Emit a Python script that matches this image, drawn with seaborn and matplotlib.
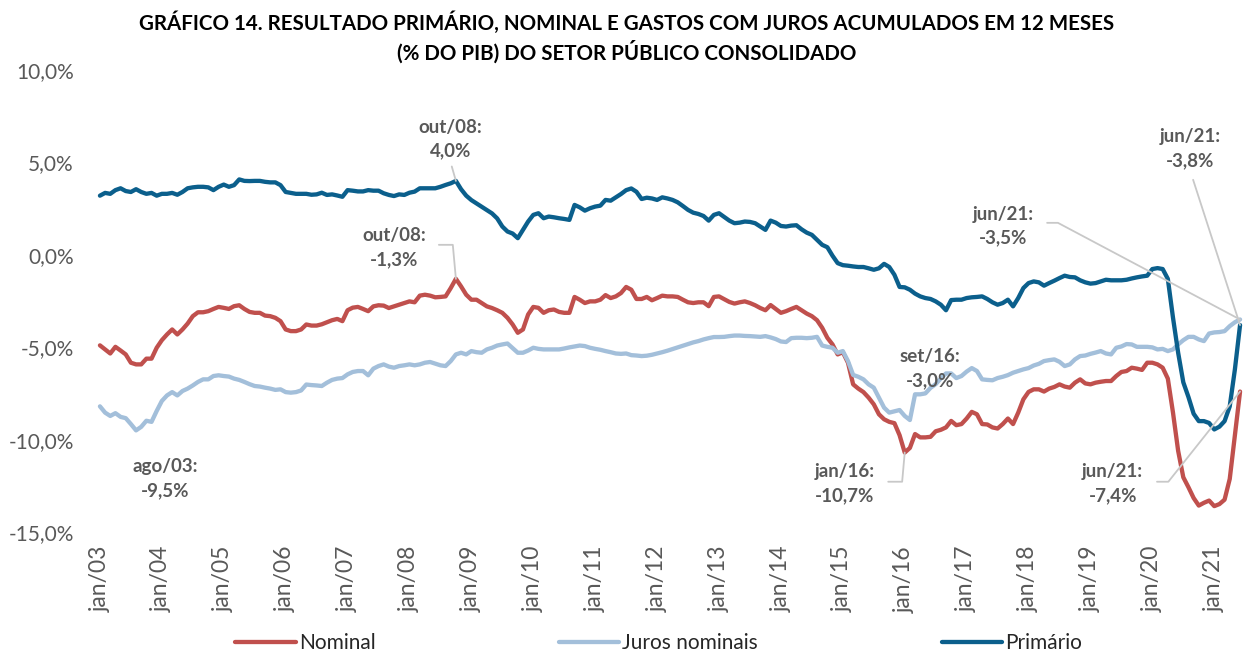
import matplotlib
matplotlib.use("Agg")
import matplotlib.pyplot as plt
import seaborn as sns
import numpy as np
import pandas as pd

# Séries mensais (% do PIB, acumulado em 12 meses), jan/03 a jun/21
nominal = [
    -4.90, -5.12, -5.34, -4.98, -5.18, -5.39, -5.84, -5.93, -5.93, -5.62, -5.62, -5.03,  # 2003
    -4.62, -4.31, -4.04, -4.31, -4.04, -3.72, -3.32, -3.11, -3.11, -3.05, -2.93, -2.82,  # 2004
    -2.87, -2.93, -2.78, -2.73, -2.93, -3.09, -3.14, -3.14, -3.29, -3.32, -3.41, -3.59,  # 2005
    -4.04, -4.13, -4.13, -4.04, -3.77, -3.83, -3.83, -3.76, -3.65, -3.54, -3.47, -3.59,  # 2006
    -3.00, -2.86, -2.82, -2.93, -3.05, -2.79, -2.73, -2.75, -2.88, -2.79, -2.70, -2.61,  # 2007
    -2.52, -2.57, -2.21, -2.16, -2.21, -2.30, -2.28, -2.25, -1.80, -1.30, -1.71, -2.16,  # 2008
    -2.43, -2.43, -2.61, -2.79, -2.88, -3.00, -3.14, -3.41, -3.77, -4.22, -4.04, -3.23,  # 2009
    -2.82, -2.87, -3.14, -3.00, -2.96, -3.09, -3.14, -3.14, -2.28, -2.43, -2.61, -2.52,  # 2010
    -2.52, -2.43, -2.18, -2.34, -2.25, -2.07, -1.74, -1.89, -2.39, -2.39, -2.28, -2.46,  # 2011
    -2.34, -2.21, -2.25, -2.25, -2.28, -2.43, -2.57, -2.61, -2.57, -2.57, -2.78, -2.28,  # 2012
    -2.25, -2.40, -2.55, -2.64, -2.57, -2.52, -2.61, -2.73, -2.88, -3.00, -2.72, -2.93,  # 2013
    -3.14, -3.05, -2.93, -2.82, -3.00, -3.18, -3.32, -3.54, -3.95, -4.49, -4.85, -5.39,  # 2014
    -5.27, -5.84, -7.01, -7.24, -7.43, -7.73, -8.09, -8.63, -8.90, -9.04, -9.11, -9.76,  # 2015
    -10.70, -10.45, -9.70, -9.88, -9.88, -9.85, -9.55, -9.47, -9.34, -8.99, -9.22, -9.16,  # 2016
    -8.86, -8.50, -8.63, -9.16, -9.18, -9.34, -9.40, -9.16, -8.86, -9.16, -8.54, -7.82,  # 2017
    -7.42, -7.28, -7.28, -7.40, -7.24, -7.15, -7.01, -7.13, -7.19, -6.92, -6.74, -6.96,  # 2018
    -7.01, -6.92, -6.87, -6.83, -6.83, -6.56, -6.34, -6.29, -6.11, -6.16, -6.23, -5.84,  # 2019
    -5.84, -5.93, -6.11, -6.70, -8.54, -10.61, -12.04, -12.58, -13.16, -13.57, -13.42, -13.30,  # 2020
    -13.60, -13.49, -13.25, -12.13, -9.79, -7.40,  # 2021
]
juros = [
    -8.20, -8.54, -8.72, -8.57, -8.77, -8.84, -9.16, -9.50, -9.31, -8.98, -9.04, -8.45,
    -7.91, -7.61, -7.43, -7.61, -7.37, -7.24, -7.07, -6.88, -6.74, -6.74, -6.56, -6.52,
    -6.56, -6.59, -6.70, -6.77, -6.88, -7.00, -7.10, -7.13, -7.19, -7.24, -7.31, -7.28,
    -7.43, -7.46, -7.43, -7.34, -7.02, -7.05, -7.07, -7.10, -6.92, -6.77, -6.70, -6.67,
    -6.47, -6.34, -6.29, -6.29, -6.52, -6.16, -6.02, -5.93, -6.05, -6.11, -6.02, -5.98,
    -5.93, -5.98, -5.93, -5.84, -5.80, -5.89, -5.98, -6.02, -5.75, -5.39, -5.30, -5.39,
    -5.21, -5.27, -5.30, -5.12, -5.03, -4.91, -4.85, -4.80, -5.05, -5.30, -5.30, -5.18,
    -5.03, -5.09, -5.12, -5.12, -5.12, -5.12, -5.07, -5.01, -4.96, -4.91, -4.94, -5.03,
    -5.09, -5.14, -5.21, -5.27, -5.34, -5.36, -5.34, -5.43, -5.45, -5.48, -5.46, -5.41,
    -5.34, -5.27, -5.19, -5.10, -5.01, -4.92, -4.83, -4.74, -4.67, -4.58, -4.51, -4.45,
    -4.45, -4.44, -4.40, -4.37, -4.37, -4.39, -4.40, -4.42, -4.44, -4.40, -4.47, -4.56,
    -4.69, -4.72, -4.51, -4.49, -4.49, -4.51, -4.49, -4.44, -4.91, -4.98, -5.03, -5.30,
    -5.21, -5.75, -6.50, -6.60, -6.74, -7.01, -7.19, -7.73, -8.27, -8.54, -8.47, -8.40,
    -8.72, -8.94, -7.55, -7.55, -7.50, -7.20, -7.00, -6.69, -6.42, -6.42, -6.67, -6.56,
    -6.32, -6.13, -6.29, -6.74, -6.77, -6.79, -6.67, -6.60, -6.51, -6.38, -6.29, -6.20,
    -6.13, -5.99, -5.90, -5.75, -5.70, -5.66, -5.79, -6.02, -5.93, -5.66, -5.48, -5.45,
    -5.36, -5.29, -5.21, -5.34, -5.39, -5.03, -4.96, -4.83, -4.85, -4.98, -4.98, -4.98,
    -5.01, -5.12, -5.09, -5.21, -5.12, -4.85, -4.62, -4.44, -4.44, -4.58, -4.67, -4.26,
    -4.20, -4.18, -4.13, -3.86, -3.65, -3.50,
]
primario = [
    3.20, 3.35, 3.30, 3.50, 3.60, 3.45, 3.40, 3.55, 3.40, 3.30, 3.35, 3.20,
    3.30, 3.30, 3.35, 3.25, 3.40, 3.60, 3.65, 3.68, 3.68, 3.65, 3.50, 3.68,
    3.80, 3.68, 3.77, 4.08, 4.00, 3.99, 4.00, 4.00, 3.95, 3.92, 3.92, 3.77,
    3.40, 3.35, 3.30, 3.30, 3.30, 3.25, 3.27, 3.36, 3.24, 3.27, 3.21, 3.14,
    3.50, 3.47, 3.43, 3.43, 3.50, 3.47, 3.47, 3.33, 3.24, 3.18, 3.27, 3.24,
    3.36, 3.42, 3.60, 3.60, 3.60, 3.60, 3.68, 3.78, 3.87, 4.00, 3.55, 3.20,
    2.96, 2.78, 2.60, 2.42, 2.24, 1.97, 1.53, 1.26, 1.15, 0.90, 1.35, 1.80,
    2.16, 2.25, 1.98, 2.07, 2.03, 1.98, 1.94, 1.89, 2.70, 2.57, 2.39, 2.52,
    2.61, 2.66, 2.97, 2.93, 3.11, 3.29, 3.50, 3.59, 3.41, 3.02, 3.09, 3.05,
    2.97, 3.11, 3.05, 2.97, 2.84, 2.64, 2.43, 2.28, 2.21, 2.10, 1.85, 2.16,
    2.25, 2.05, 1.85, 1.71, 1.74, 1.80, 1.78, 1.71, 1.53, 1.35, 1.85, 1.74,
    1.56, 1.53, 1.58, 1.60, 1.38, 1.20, 1.08, 0.81, 0.54, 0.41, -0.05, -0.45,
    -0.56, -0.59, -0.63, -0.66, -0.66, -0.73, -0.81, -0.73, -0.49, -0.66, -1.08, -1.74,
    -1.76, -1.89, -2.10, -2.25, -2.34, -2.39, -2.52, -2.70, -3.00, -2.45, -2.43, -2.43,
    -2.34, -2.30, -2.28, -2.25, -2.39, -2.57, -2.70, -2.61, -2.43, -2.79, -2.34, -1.80,
    -1.53, -1.44, -1.49, -1.67, -1.53, -1.40, -1.26, -1.13, -1.20, -1.22, -1.38, -1.49,
    -1.56, -1.53, -1.44, -1.35, -1.38, -1.38, -1.38, -1.35, -1.28, -1.22, -1.17, -1.13,
    -0.77, -0.72, -0.77, -1.30, -3.40, -5.30, -6.90, -7.70, -8.60, -9.00, -9.00, -9.10,
    -9.45, -9.30, -9.00, -8.20, -6.20, -3.80,
]

series = ["Nominal", "Juros nominais", "Primário"]
cores = {"Nominal": "#C0504D", "Juros nominais": "#A3BFDA", "Primário": "#0B5F8C"}
anos = list(range(2003, 2022))
rotulos_x = ["jan/%02d" % (a % 100) for a in anos]
ticks_y = [-15, -10, -5, 0, 5, 10]
rotulos_y = ["-15,0%", "-10,0%", "-5,0%", "0,0%", "5,0%", "10,0%"]

meses = np.arange(len(nominal))
df = pd.DataFrame({
    "mes": np.tile(meses, 3),
    "valor": nominal + juros + primario,
    "serie": np.repeat(series, len(meses)),
})

sns.set_theme(style="white")
plt.rcParams["font.family"] = ["Lato", "DejaVu Sans"]

fig = plt.figure(figsize=(12.45, 6.55), dpi=100)
ax = fig.add_axes([0.0782, 0.1878, 0.9199, 0.7053])

sns.lineplot(data=df, x="mes", y="valor", hue="serie", hue_order=series,
             palette=cores, linewidth=3.1, estimator=None, legend=False, ax=ax)

ax.set_xlim(-0.5, len(meses) - 0.5)
ax.set_ylim(-15, 10)
ax.set_xticks([12 * i for i in range(len(anos))])
ax.set_xticklabels(rotulos_x, rotation=90)
ax.set_yticks(ticks_y)
ax.set_yticklabels(rotulos_y)
ax.tick_params(axis="y", length=0, pad=17, labelsize=15, labelcolor="#595959")
ax.tick_params(axis="x", length=0, pad=10, labelsize=16.5, labelcolor="#595959")
ax.set_xlabel("")
ax.set_ylabel("")
for s in ax.spines.values():
    s.set_visible(False)

fig.text(0.503, 0.982, "GRÁFICO 14. RESULTADO PRIMÁRIO, NOMINAL E GASTOS COM JUROS ACUMULADOS EM 12 MESES\n"
         "(% DO PIB) DO SETOR PÚBLICO CONSOLIDADO",
         ha="center", va="top", fontsize=14.8, fontweight="bold", color="black", linespacing=1.3)

# anotações
estilo = dict(ha="center", va="center", fontsize=13.5, fontweight="bold", color="#595959", linespacing=1.5)
cinza = "#C8C8C8"
ultimo = len(meses) - 1

ax.text(68.0, 6.26, "out/08:\n4,0%", **estilo)
ax.plot([68.2, 69], [4.78, primario[69]], color=cinza, lw=1.3)

ax.text(57.0, 0.40, "out/08:\n-1,3%", **estilo)
ax.plot([65.7, 68.4, 69], [0.54, 0.54, nominal[69]], color=cinza, lw=1.3)

ax.text(12.6, -12.1, "ago/03:\n-9,5%", **estilo)

ax.text(160.9, -6.17, "set/16:\n-3,0%", **estilo)

ax.text(144.4, -12.40, "jan/16:\n-10,7%", **estilo)
ax.plot([152.8, 155.5, 156], [-12.28, -12.28, nominal[156]], color=cinza, lw=1.3)

ax.text(175.1, 1.55, "jun/21:\n-3,5%", **estilo)
ax.plot([183.6, 185.7, ultimo], [1.73, 1.73, juros[ultimo]], color=cinza, lw=1.3)

ax.text(211.3, 5.75, "jun/21:\n-3,8%", **estilo)
ax.plot([211.9, ultimo], [4.06, primario[ultimo]], color=cinza, lw=1.3)

ax.text(196.3, -12.40, "jun/21:\n-7,4%", **estilo)
ax.plot([204.9, 207.1, ultimo], [-12.28, -12.28, nominal[ultimo]], color=cinza, lw=1.3)

handles = [plt.Line2D([], [], color=cores[s], lw=3.1) for s in series]
fig.legend(handles, series, loc="center", bbox_to_anchor=(0.529, 0.018), ncol=3,
           frameon=False, fontsize=15, handlelength=2.9, handletextpad=0.15,
           columnspacing=8.8)

fig.savefig("out.png", dpi=100)
